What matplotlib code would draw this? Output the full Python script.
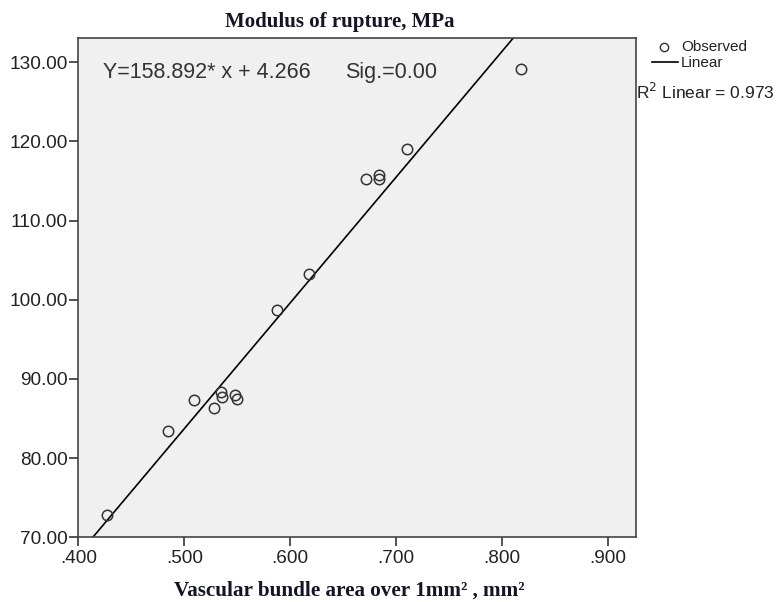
import numpy as np
import matplotlib
matplotlib.use("Agg")
import matplotlib.pyplot as plt

# vascular bundle area (mm2 per 1mm2) vs modulus of rupture (MPa)
area = [0.427, 0.485, 0.509, 0.528, 0.535, 0.536, 0.548, 0.550,
        0.588, 0.618, 0.672, 0.684, 0.684, 0.710, 0.818]
mor = [72.8, 83.4, 87.3, 86.3, 88.4, 87.7, 88.0, 87.5,
       98.7, 103.2, 115.3, 115.8, 115.2, 119.0, 129.2]

slope = 158.892
intercept = 4.266
r2 = 0.973

xticks = [0.4, 0.5, 0.6, 0.7, 0.8, 0.9]
xticklabels = [".400", ".500", ".600", ".700", ".800", ".900"]
yticks = [70, 80, 90, 100, 110, 120, 130]
yticklabels = ["%.2f" % v for v in yticks]

plt.rcParams['font.family'] = ['Liberation Sans', 'DejaVu Sans']

fig = plt.figure(figsize=(7.77, 6.02), dpi=100)
ax = fig.add_axes([0.1008, 0.1075, 0.7177, 0.8299])
ax.set_facecolor("#f0f0f0")

xmin, xmax = 0.4, 0.9264
ymin, ymax = 70, 133.1
ax.set_xlim(xmin, xmax)
ax.set_ylim(ymin, ymax)

# fitted line from the regression coefficients
xs = np.array([xmin, xmax])
ax.plot(xs, slope * xs + intercept, color="black", lw=1.2, zorder=2)

ax.plot(area, mor, linestyle="none", marker="o", markersize=7.5,
        markerfacecolor="none", markeredgecolor="#333333", markeredgewidth=1.1, zorder=3)

ax.set_xticks(xticks)
ax.set_xticklabels(xticklabels)
ax.set_yticks(yticks)
ax.set_yticklabels(yticklabels)
ax.tick_params(direction="out", length=6.5, width=1.2, color="#333333",
               labelsize=13.7, labelcolor="#222222")
ax.tick_params(axis="y", pad=1)
ax.tick_params(axis="x", pad=3)
for s in ax.spines.values():
    s.set_color("#444444")
    s.set_linewidth(1.2)

ax.text(0.045, 0.931, "Y=158.892* x + 4.266", transform=ax.transAxes,
        fontsize=15.5, color="#333333", va="center")
ax.text(0.478, 0.931, "Sig.=0.00", transform=ax.transAxes,
        fontsize=15.5, color="#333333", va="center")

fig.text(0.437, 0.964, "Modulus of rupture, MPa", ha="center", va="center",
         family="Liberation Serif", fontweight="bold", fontsize=15, color="#141428")
fig.text(0.449, 1 - 591 / 602, "Vascular bundle area over 1mm\u00b2 , mm\u00b2", ha="center",
         va="center", family="Liberation Serif", fontweight="bold", fontsize=15.2,
         color="#141428")

# legend drawn at the right of the plot area
fig.lines.append(plt.Line2D([664 / 777], [1 - 47 / 602], marker="o", markersize=6,
                            markerfacecolor="none", markeredgecolor="#333333",
                            markeredgewidth=1, transform=fig.transFigure))
fig.lines.append(plt.Line2D([652 / 777, 678 / 777], [1 - 62 / 602, 1 - 62 / 602],
                            color="black", lw=1.2, transform=fig.transFigure))
fig.text(681 / 777, 1 - 47 / 602, "Observed", fontsize=11, color="#222222", va="center")
fig.text(681 / 777, 1 - 63 / 602, "Linear", fontsize=11, color="#222222", va="center")
fig.text(636 / 777, 1 - 92 / 602, "R$^2$ Linear = %.3f" % r2, fontsize=12.5,
         color="#222222", va="center")

fig.savefig("out.png", dpi=100)
